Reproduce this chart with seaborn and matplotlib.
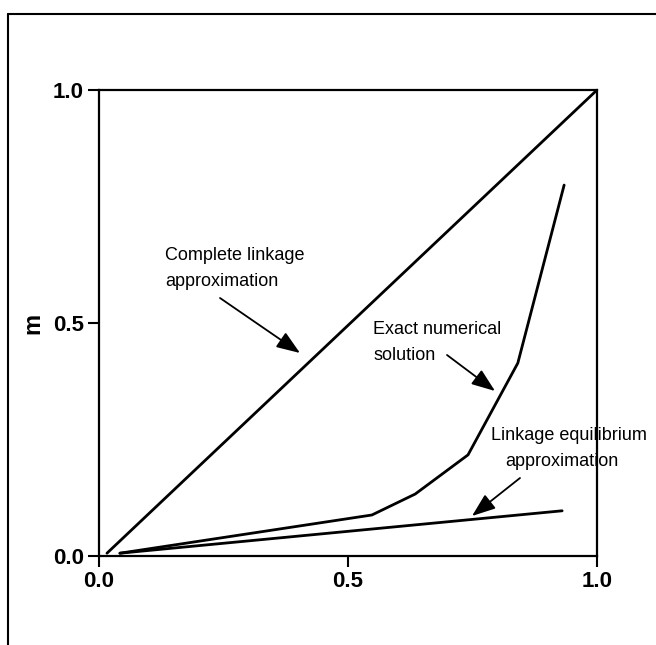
import matplotlib
matplotlib.use("Agg")
import matplotlib.pyplot as plt
from matplotlib.lines import Line2D
from matplotlib import font_manager
import seaborn as sns
import pandas as pd

# Curves: selection parameter vs m
complete_x = [0.016, 1.0]
complete_y = [0.006, 1.0]

exact_x = [0.042, 0.548, 0.635, 0.741, 0.841, 0.934]
exact_y = [0.006, 0.088, 0.133, 0.217, 0.414, 0.796]

equil_x = [0.042, 0.930]
equil_y = [0.006, 0.097]

ticks = [0.0, 0.5, 1.0]
tick_labels = ["0.0", "0.5", "1.0"]

sns.set_theme(style="white")
names = {f.name for f in font_manager.fontManager.ttflist}
family = "Liberation Sans Narrow" if "Liberation Sans Narrow" in names else "Liberation Sans"
plt.rcParams["font.family"] = [family, "DejaVu Sans"]
plt.rcParams["text.color"] = "black"
plt.rcParams["xtick.color"] = "black"
plt.rcParams["ytick.color"] = "black"
plt.rcParams["axes.labelcolor"] = "black"

fig = plt.figure(figsize=(6.56, 6.45), dpi=100)
ax = fig.add_axes([99 / 656, 1 - 556 / 645, 498 / 656, 466 / 645])

frames = {
    "complete": pd.DataFrame({"x": complete_x, "y": complete_y}),
    "exact": pd.DataFrame({"x": exact_x, "y": exact_y}),
    "equil": pd.DataFrame({"x": equil_x, "y": equil_y}),
}
for df in frames.values():
    sns.lineplot(data=df, x="x", y="y", ax=ax, sort=False, color="black",
                 linewidth=2.0, estimator=None)

ax.set_xlim(0, 1)
ax.set_ylim(0, 1)
ax.set_xticks(ticks)
ax.set_yticks(ticks)
ax.set_xticklabels(tick_labels, fontsize=16, fontweight="bold")
ax.set_yticklabels(tick_labels, fontsize=16, fontweight="bold")
ax.tick_params(axis="both", direction="out", length=8, width=1.5, colors="black",
               bottom=True, left=True, pad=3)
ax.set_xlabel("")
ax.set_ylabel("m", fontsize=17, fontweight="bold", labelpad=6)
for sp in ax.spines.values():
    sp.set_visible(True)
    sp.set_color("black")
    sp.set_linewidth(1.6)

arrow = dict(arrowstyle="-|>,head_length=1.2,head_width=0.45", color="black",
             lw=1.3, shrinkA=0, shrinkB=0)


def px(xp, yp):
    """Convert drawing offsets inside the plot box to data units."""
    return ((xp - 99) / 498, (556 - yp) / 466)


label_kw = dict(fontsize=13, color="black", va="center")

ax.text(*px(165, 255), "Complete linkage", ha="left", **label_kw)
ax.text(*px(165, 281), "approximation", ha="left", **label_kw)
ax.annotate("", xy=px(300, 353), xytext=px(220, 298), arrowprops=arrow)

ax.text(*px(373, 330), "Exact numerical", ha="left", **label_kw)
ax.text(*px(373, 356), "solution", ha="left", **label_kw)
ax.annotate("", xy=px(495, 391), xytext=px(447, 355), arrowprops=arrow)

ax.text(*px(491, 435), "Linkage equilibrium", ha="left", **label_kw)
ax.text(*px(505, 461), "approximation", ha="left", **label_kw)
ax.annotate("", xy=px(472, 516), xytext=px(520, 478), arrowprops=arrow)

# outer frame (top and left edges)
y_top = 1 - 14 / 645
x_left = 8 / 656
fig.add_artist(Line2D([x_left, 1.0], [y_top, y_top], transform=fig.transFigure,
                      color="black", linewidth=1.5))
fig.add_artist(Line2D([x_left, x_left], [0, y_top], transform=fig.transFigure,
                      color="black", linewidth=1.5))

fig.savefig("out.png", dpi=100, facecolor="white")
